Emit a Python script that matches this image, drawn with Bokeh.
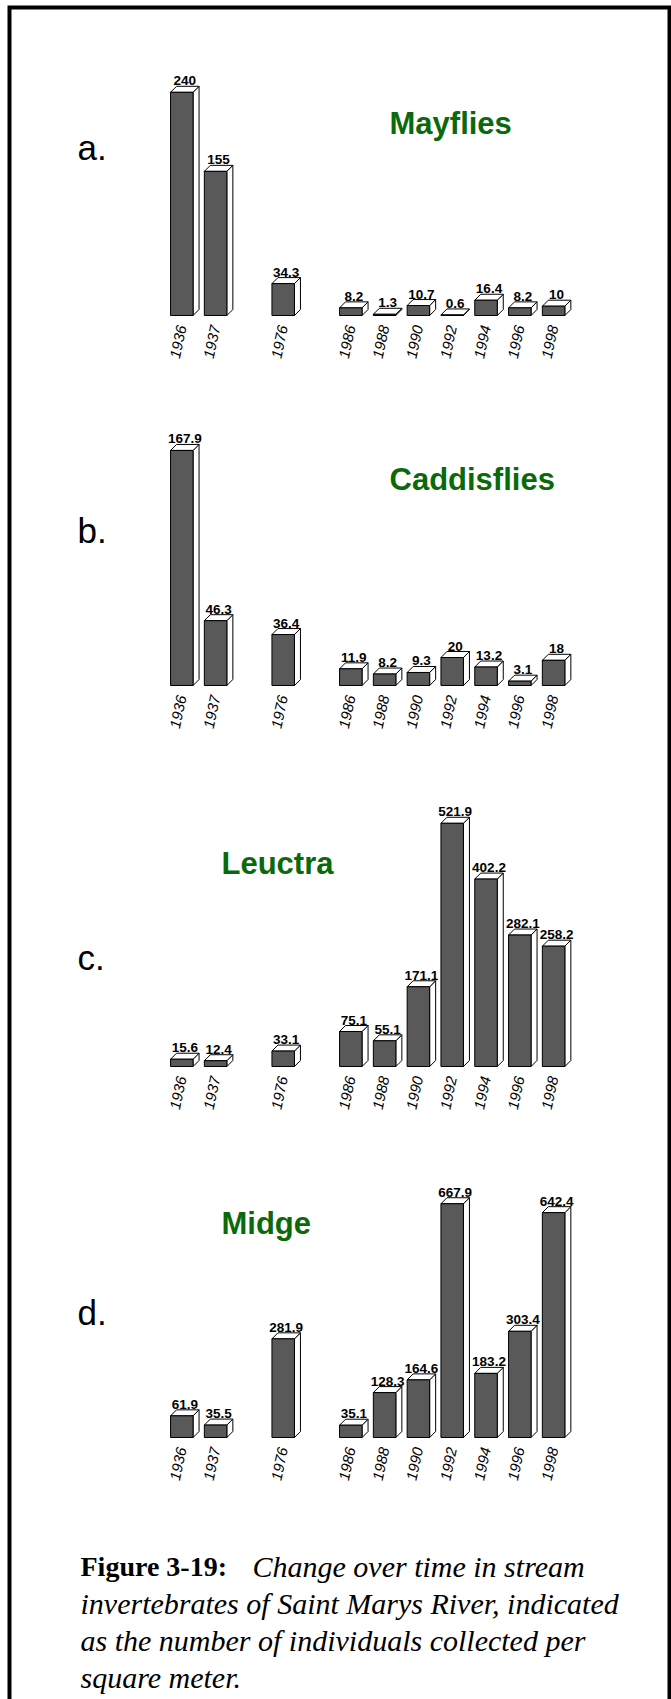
from bokeh.plotting import figure
from bokeh.models import Range1d
from bokeh.core.properties import value
from bokeh.embed import file_html
from bokeh.resources import INLINE

# ---------------- data ----------------
years = ["1936", "1937", "1976", "1986", "1988", "1990", "1992", "1994", "1996", "1998"]
mayflies = [240, 155, 34.3, 8.2, 1.3, 10.7, 0.6, 16.4, 8.2, 10]
caddisflies = [167.9, 46.3, 36.4, 11.9, 8.2, 9.3, 20, 13.2, 3.1, 18]
leuctra = [15.6, 12.4, 33.1, 75.1, 55.1, 171.1, 521.9, 402.2, 282.1, 258.2]
midge = [61.9, 35.5, 281.9, 35.1, 128.3, 164.6, 667.9, 183.2, 303.4, 642.4]
panel_titles = ["Mayflies", "Caddisflies", "Leuctra", "Midge"]
panel_letters = ["a.", "b.", "c.", "d."]
caption_bold = "Figure 3-19:"
caption_first = "Change over time in stream"
caption_rest = ["invertebrates of Saint Marys River, indicated",
                "as the number of individuals collected per",
                "square meter."]

# ---------------- layout ----------------
W, H = 671, 1699
group_sizes = [2, 1, 7]       # 1936-37 | 1976 | 1986-98, one empty slot between groups
PITCH = 33.8                  # px per slot
X0 = 181.3                    # px of first slot centre
BAR_W = 22.5                  # px
DEPTH = 6.0                   # px of 3-D depth
BAR_FILL = "#595959"
GREEN = "#0a690a"
FONT = "Liberation Sans"
SERIF = "Liberation Serif"

# slot positions derived from grouping
slots = []
pos = 0
for g in group_sizes:
    for _ in range(g):
        slots.append(pos)
        pos += 1
    pos += 1

# per panel: (baseline y, px per unit, title x, title baseline y, letter baseline y)
panel_layout = [
    (315.0, 0.930, 389, 123, 147),
    (685.0, 1.400, 389, 479, 530),
    (1066.0, 0.466, 221, 863, 957),
    (1437.0, 0.350, 221, 1223, 1312),
]
series = [mayflies, caddisflies, leuctra, midge]

p = figure(width=W, height=H, x_range=Range1d(0, W), y_range=Range1d(H, 0),
           output_backend="svg", toolbar_location=None,
           x_axis_location=None, y_axis_location=None, min_border=0)
p.grid.visible = False
p.outline_line_color = None
p.background_fill_color = "white"
p.border_fill_color = "white"

p.extra_x_ranges = {"slots": Range1d(-X0 / PITCH, (W - X0) / PITCH)}

bw = BAR_W / PITCH
dxs = DEPTH / PITCH

for k, (vals, title, letter, lay) in enumerate(zip(series, panel_titles, panel_letters, panel_layout)):
    base, s, tx, ty, ly = lay
    name = "panel%d" % k
    p.extra_y_ranges[name] = Range1d((base - H) / s, base / s)
    dys = DEPTH / s

    top_xs, top_ys, side_xs, side_ys = [], [], [], []
    for xc, v in zip(slots, vals):
        x0, x1 = xc - bw / 2, xc + bw / 2
        top_xs.append([x0, x1, x1 + dxs, x0 + dxs])
        top_ys.append([v, v, v + dys, v + dys])
        side_xs.append([x1, x1 + dxs, x1 + dxs, x1])
        side_ys.append([0, dys, v + dys, v])
    p.patches(side_xs, side_ys, fill_color="white", line_color="black", line_width=1,
              x_range_name="slots", y_range_name=name)
    p.patches(top_xs, top_ys, fill_color="white", line_color="black", line_width=1,
              x_range_name="slots", y_range_name=name)
    p.vbar(x=slots, width=bw, bottom=0, top=vals, fill_color=BAR_FILL,
           line_color="black", line_width=1, x_range_name="slots", y_range_name=name)

    # value labels
    p.text(x=[xc + dxs / 2 for xc in slots], y=[v + dys + 5.5 / s for v in vals],
           text=[f"{v:g}" for v in vals], text_align="center", text_baseline="alphabetic",
           text_font=value(FONT), text_font_style="bold", text_font_size="13.5px",
           text_color="black", x_range_name="slots", y_range_name=name)

    # year labels
    p.text(x=slots, y=[-10.0 / s] * len(slots), text=years, angle=78, angle_units="deg",
           text_align="right", text_baseline="middle", text_font=value(FONT),
           text_font_style="italic", text_font_size="15px", text_color="black",
           x_range_name="slots", y_range_name=name)

    # panel title and letter
    p.text(x=[tx], y=[ty], text=[title], text_align="left",
           text_baseline="alphabetic", text_font=value(FONT), text_font_style="bold",
           text_font_size="31px", text_color=GREEN)
    p.text(x=[77], y=[ly], text=[letter], text_align="left",
           text_baseline="alphabetic", text_font=value(FONT), text_font_size="35px",
           text_color="black")

# caption
CAP_X = 80
CAP_Y = 1566
CAP_LH = 37
p.text(x=[CAP_X], y=[CAP_Y], text=[caption_bold], text_align="left", text_baseline="alphabetic",
       text_font=value(SERIF), text_font_style="bold", text_font_size="28px", text_color="black")
p.text(x=[252], y=[CAP_Y], text=[caption_first], text_align="left",
       text_baseline="alphabetic", text_font=value(SERIF), text_font_style="italic",
       text_font_size="30px", text_color="black")
p.text(x=[CAP_X] * len(caption_rest), y=[CAP_Y + CAP_LH * (i + 1) for i in range(len(caption_rest))],
       text=caption_rest, text_align="left", text_baseline="alphabetic",
       text_font=value(SERIF), text_font_style="italic", text_font_size="30px",
       text_color="black")

# frame (open at the bottom)
p.line(x=[9, 9, 669, 669], y=[H, 7, 7, H], line_width=4, line_color="black",
       line_join="miter")

open("out.html", "w").write(file_html(p, INLINE))
